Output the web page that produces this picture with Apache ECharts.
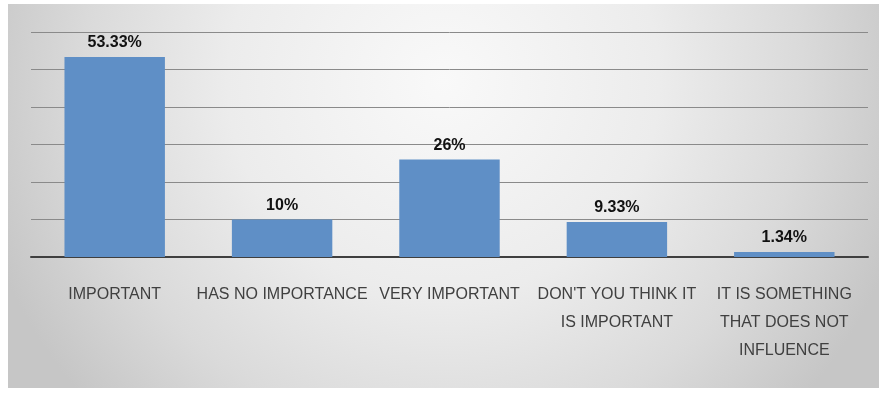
<!DOCTYPE html>
<html>
<head>
<meta charset="utf-8">
<script src="https://cdn.jsdelivr.net/npm/echarts@6/dist/echarts.min.js"></script>
<style>html,body{margin:0;padding:0;background:#fff;}#c{width:879px;height:394px;}</style>
</head>
<body>
<div id="c"></div>
<script>
const categories = ["IMPORTANT", "HAS NO IMPORTANCE", "VERY IMPORTANT", "DON'T YOU THINK IT\nIS IMPORTANT", "IT IS SOMETHING\nTHAT DOES NOT\nINFLUENCE"];
const values = [53.33, 10, 26, 9.33, 1.34];
const valueLabels = ["53.33%", "10%", "26%", "9.33%", "1.34%"];
const yTicks = [0, 10, 20, 30, 40, 50, 60];

const FONT = "'Liberation Sans', Arial, sans-serif";
const chart = echarts.init(document.getElementById('c'), null, {renderer: 'canvas'});
chart.setOption({
  animation: false,
  graphic: [{
    type: 'rect', z: -10, silent: true,
    shape: {x: 8, y: 4, width: 871, height: 384},
    style: {
      fill: {
        type: 'radial', x: 0.5, y: 0.2, r: 1.25,
        colorStops: [{offset: 0, color: '#f9f9f9'}, {offset: 0.45, color: '#ececec'}, {offset: 0.75, color: '#dadada'}, {offset: 1, color: '#c6c6c6'}]
      }
    }
  }],
  grid: {left: 31, right: 11, top: 32, bottom: 137, containLabel: false},
  xAxis: {
    type: 'category',
    data: categories,
    axisLine: {show: true, lineStyle: {color: '#3f3f3f', width: 2}},
    axisTick: {show: false},
    axisLabel: {
      interval: 0, margin: 24, color: '#404040', fontFamily: FONT, fontSize: 16, lineHeight: 28
    }
  },
  yAxis: {
    type: 'value', min: yTicks[0], max: yTicks[yTicks.length - 1], interval: 10,
    axisLabel: {show: false}, axisLine: {show: false}, axisTick: {show: false},
    splitLine: {show: true, lineStyle: {color: '#8a8a8a', width: 1}}
  },
  series: [{
    type: 'bar',
    data: values,
    barCategoryGap: '40%',
    itemStyle: {color: '#5f8fc6'},
    label: {
      show: true, position: 'top', distance: 6,
      formatter: p => valueLabels[p.dataIndex],
      color: '#111', fontWeight: 'bold', fontFamily: FONT, fontSize: 16
    }
  }]
});
</script>
</body>
</html>
